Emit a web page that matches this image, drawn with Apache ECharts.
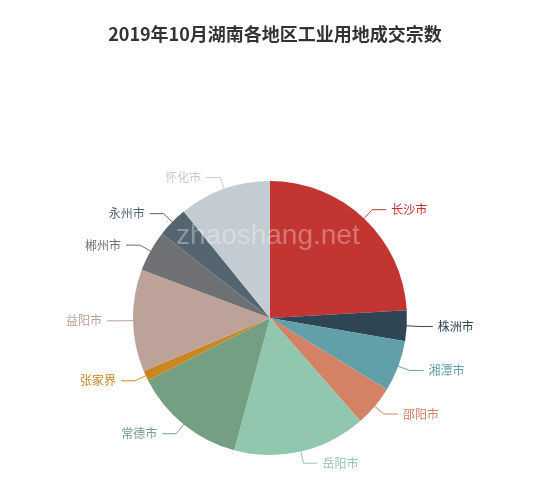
<!DOCTYPE html>
<html>
<head>
<meta charset="utf-8">
<script src="https://cdn.jsdelivr.net/npm/echarts@6/dist/echarts.min.js"></script>
<style>html,body{margin:0;padding:0;background:#fff;}#c{width:550px;height:490px;}</style>
</head>
<body>
<div id="c"></div>
<script>
var categories = ['长沙市','株洲市','湘潭市','邵阳市','岳阳市','常德市','张家界','益阳市','郴州市','永州市','怀化市'];
var values = [20, 3, 5, 4, 13, 11, 1, 10, 4, 3, 9];
var colors = ['#c23531','#2f4554','#61a0a8','#d48265','#91c7ae','#749f83','#ca8622','#bda29a','#6e7074','#546570','#c4ccd3'];
var titleText = '2019年10月湖南各地区工业用地成交宗数';
var watermark = 'zhaoshang.net';

var chart = echarts.init(document.getElementById('c'));
chart.setOption({
  animation: false,
  color: colors,
  title: {
    text: titleText,
    left: 'center',
    top: 20,
    textStyle: {fontSize: 18, fontWeight: 'bold', color: '#333', fontFamily: 'Noto Sans CJK SC'}
  },
  graphic: [{
    type: 'text',
    left: 176,
    top: 222,
    z: 100,
    style: {text: watermark, fontSize: 28, fontFamily: 'Liberation Sans', fill: 'rgba(255,255,255,0.32)'}
  }],
  series: [{
    type: 'pie',
    center: [270, 318],
    radius: 137,
    startAngle: 90,
    clockwise: true,
    avoidLabelOverlap: true,
    itemStyle: {borderWidth: 0},
    label: {fontSize: 12, fontFamily: 'Noto Sans CJK SC'},
    labelLine: {length: 12, length2: 14},
    emphasis: {disabled: true},
    data: categories.map(function (n, i) {
      return {name: n, value: values[i], label: {color: colors[i]}, labelLine: {lineStyle: {color: colors[i]}}};
    })
  }]
});
</script>
</body>
</html>
